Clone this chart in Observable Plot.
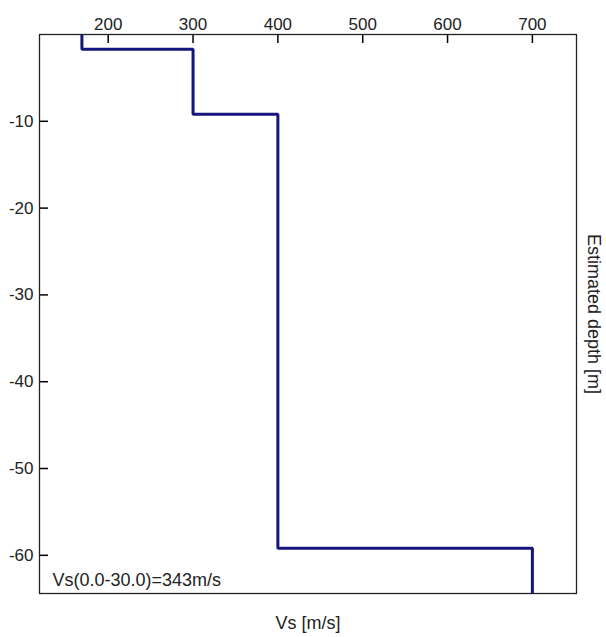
<!DOCTYPE html>
<html>
<head>
<meta charset="utf-8">
<script src="https://cdn.jsdelivr.net/npm/d3@7"></script>
<script src="https://cdn.jsdelivr.net/npm/@observablehq/plot@0.6"></script>
<style>
  html, body { margin: 0; padding: 0; background: #fff; }
  #chart svg { display: block; }
</style>
</head>
<body>
<div id="chart"></div>
<script>
// Layer shear-wave velocities (m/s) and layer tops (m, negative down)
const vs = [169, 300, 400, 700];
const layerTops = [0, -1.7, -9.2, -59.2];
const profileBottom = -64.4;
const xDomain = [119, 752];
const yDomain = [profileBottom, 0];
const xTicks = [200, 300, 400, 500, 600, 700];
const yTicks = [-10, -20, -30, -40, -50, -60];
const xLabel = "Vs [m/s]";
const yLabel = "Estimated depth [m]";
const note = "Vs(0.0-30.0)=343m/s";

// Step profile points built from the layer arrays
const profile = [];
vs.forEach((v, i) => {
  const t0 = layerTops[i];
  const t1 = i + 1 < layerTops.length ? layerTops[i + 1] : profileBottom;
  profile.push({vs: v, depth: t0});
  profile.push({vs: v, depth: t1});
});

const font = "'Liberation Sans', Arial, sans-serif";
const W = 606, H = 637;
const mL = 39, mR = 30, mT = 34, mB = 44;
const tickLen = 9;
const plotW = W - mL - mR, plotH = H - mT - mB;
// tick length converted to data units
const dxTick = tickLen * (xDomain[1] - xDomain[0]) / plotW;
const dyTick = tickLen * (yDomain[1] - yDomain[0]) / plotH;

const chart = Plot.plot({
  width: W,
  height: H,
  marginLeft: mL,
  marginRight: mR,
  marginTop: mT,
  marginBottom: mB,
  style: {fontFamily: font, fontSize: "17px", color: "#222", background: "#fff"},
  x: {domain: xDomain, ticks: xTicks},
  y: {domain: yDomain, ticks: yTicks},
  marks: [
    Plot.axisX({anchor: "top", ticks: xTicks, tickSize: 0, tickPadding: 5, label: null, tickFormat: d => String(d), fontSize: 17}),
    Plot.axisY({anchor: "left", ticks: yTicks, tickSize: 0, tickPadding: 6, label: null, tickFormat: d => String(d), fontSize: 17}),
    // inward tick marks
    Plot.ruleX(xTicks, {x: d => d, y1: yDomain[1], y2: yDomain[1] - dyTick, stroke: "black", strokeWidth: 1.5}),
    Plot.ruleY(yTicks, {y: d => d, x1: xDomain[0], x2: xDomain[0] + dxTick, stroke: "black", strokeWidth: 1.5}),
    Plot.line(profile, {x: "vs", y: "depth", stroke: "#15157c", strokeWidth: 3, strokeLinejoin: "miter", strokeLinecap: "butt"}),
    Plot.frame({stroke: "#222", strokeWidth: 1.3}),
    Plot.text([note], {frameAnchor: "bottom-left", textAnchor: "start", lineAnchor: "middle", dx: 13, dy: -13, fontSize: 18, fill: "#222"}),
    Plot.text([xLabel], {frameAnchor: "bottom", lineAnchor: "middle", dy: 30, fontSize: 18, fill: "#222"}),
    Plot.text([yLabel], {frameAnchor: "right", textAnchor: "middle", lineAnchor: "middle", rotate: 90, dx: 17, fontSize: 18, fill: "#222"})
  ]
});
document.getElementById("chart").appendChild(chart);
</script>
</body>
</html>
